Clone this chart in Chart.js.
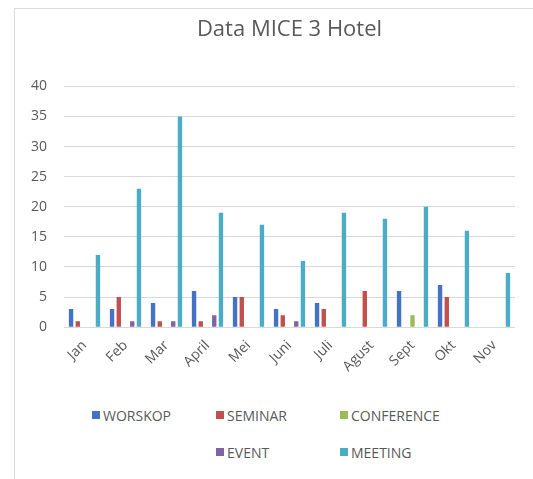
<!DOCTYPE html>
<html>
<head>
<meta charset="utf-8">
<script src="https://cdn.jsdelivr.net/npm/chart.js@4.4.1/dist/chart.umd.min.js"></script>
<style>
  html, body { margin: 0; padding: 0; background: #fff; }
  #wrap { position: relative; width: 533px; height: 479px; overflow: hidden; }
  #frame { position: absolute; left: 14px; top: 8px; width: 540px; height: 500px;
           border-left: 1px solid #d9d9d9; border-top: 1px solid #d9d9d9; }
  #box { position: absolute; left: 0; top: 0; width: 533px; height: 377px; }
  #legend { position: absolute; left: 92px; top: 405px; width: 400px;
            display: grid; grid-template-columns: 124px 124px 130px; row-gap: 17px;
            font: 14px "Open Sans", sans-serif; color: #595959; }
  #legend span.item { display: flex; align-items: center; height: 20px; white-space: nowrap; }
  #legend i { display: inline-block; width: 8px; height: 8px; margin-right: 3px; }
</style>
</head>
<body>
<div id="wrap">
  <div id="frame"></div>
  <div id="box"><canvas id="chart"></canvas></div>
  <div id="legend"></div>
</div>
<script>
// ── DATA ────────────────────────────────────────
const months     = ['Jan','Feb','Mar','April','Mei','Juni','Juli','Agust','Sept','Okt','Nov'];
const worskop    = [3, 3, 4, 6, 5, 3, 4, 0, 6, 7, 0];
const seminar    = [1, 5, 1, 1, 5, 2, 3, 6, 0, 5, 0];
const conference = [0, 0, 0, 0, 0, 0, 0, 0, 2, 0, 0];
const event      = [0, 1, 1, 2, 0, 1, 0, 0, 0, 0, 0];
const meeting    = [12, 23, 35, 19, 17, 11, 19, 18, 20, 16, 9];
const yTicks     = [0, 5, 10, 15, 20, 25, 30, 35, 40];

const series = [
  { label: 'WORSKOP',    data: worskop,    color: '#4472c4' },
  { label: 'SEMINAR',    data: seminar,    color: '#c0504d' },
  { label: 'CONFERENCE', data: conference, color: '#9bbb59' },
  { label: 'EVENT',      data: event,      color: '#8064a2' },
  { label: 'MEETING',    data: meeting,    color: '#4bacc6' }
];

// ── CHART ───────────────────────────────────────
const font = "'Open Sans', sans-serif";
new Chart(document.getElementById('chart'), {
  type: 'bar',
  data: {
    labels: months,
    datasets: series.map(s => ({
      label: s.label,
      data: s.data,
      backgroundColor: s.color,
      borderWidth: 0,
      categoryPercentage: 0.82,
      barPercentage: 0.65
    }))
  },
  options: {
    responsive: true,
    maintainAspectRatio: false,
    animation: false,
    layout: { padding: { left: 14, right: 18, top: 13, bottom: 0 } },
    plugins: {
      legend: { display: false },
      tooltip: { enabled: false },
      title: {
        display: true,
        text: 'Data MICE 3 Hotel',
        fullSize: false,
        color: '#595959',
        font: { family: font, size: 22, weight: 'normal' },
        padding: { top: 4, bottom: 43 }
      }
    },
    scales: {
      x: {
        grid: { display: false },
        border: { display: false },
        ticks: {
          color: '#595959',
          font: { family: font, size: 14 },
          maxRotation: 45, minRotation: 45,
          padding: 2
        }
      },
      y: {
        min: 0, max: 40,
        afterBuildTicks: axis => { axis.ticks = yTicks.map(v => ({ value: v })); },
        grid: { color: '#d9d9d9', drawTicks: false },
        border: { display: false },
        ticks: {
          color: '#595959',
          font: { family: font, size: 14 },
          padding: 17
        }
      }
    }
  }
});

// ── LEGEND ──────────────────────────────────────
const legend = document.getElementById('legend');
series.forEach((s, i) => {
  const el = document.createElement('span');
  el.className = 'item';
  el.innerHTML = `<i style="background:${s.color}"></i>${s.label}`;
  legend.appendChild(el);
  if (i === 2) legend.appendChild(document.createElement('span'));
});
</script>
</body>
</html>
